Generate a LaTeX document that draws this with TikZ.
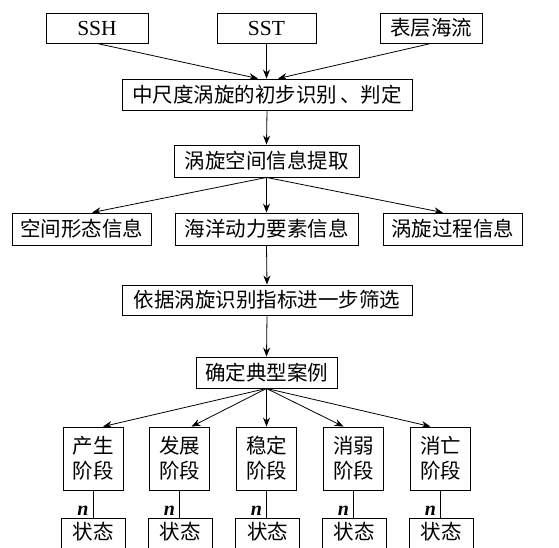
\documentclass[tikz,border=0pt]{standalone}
\usepackage{fontspec}
\setmainfont{Liberation Serif}
\newfontfamily\cjk{Noto Sans CJK SC}
\usetikzlibrary{arrows.meta,calc}
\begin{document}
\begin{tikzpicture}[x=1pt,y=-1pt,
  box/.style={draw,line width=0.9pt,inner sep=0pt,align=center,font=\fontsize{20.5}{25}\selectfont\cjk},
  arr/.style={line width=0.8pt,-{Stealth[length=9pt,width=7pt]}},
  lnk/.style={line width=0.8pt}]
\useasboundingbox (0,0) rectangle (559,547);
\clip (0,0) rectangle (559,547);
% top inputs
\node[box,minimum width=102pt,minimum height=30pt,font=\fontsize{21.5}{24}\selectfont] (ssh) at (97,28) {SSH};
\node[box,minimum width=99pt,minimum height=30pt,font=\fontsize{21.5}{24}\selectfont] (sst) at (266.5,28) {SST};
\node[box,minimum width=102pt,minimum height=30pt] (cur) at (431,28) {表层海流};
\node[box,minimum width=290pt,minimum height=31pt] (init) at (267,94.5) {中尺度涡旋的初步识别\,、判定};
\node[box,minimum width=185pt,minimum height=32pt] (ext) at (266.5,161) {涡旋空间信息提取};
\node[box,minimum width=139pt,minimum height=32pt] (sp) at (81.5,229) {空间形态信息};
\node[box,minimum width=183pt,minimum height=32pt] (dyn) at (266.5,229) {海洋动力要素信息};
\node[box,minimum width=139pt,minimum height=32pt] (proc) at (452.5,229) {涡旋过程信息};
\node[box,minimum width=290pt,minimum height=30pt] (filt) at (267,300) {依据涡旋识别指标进一步筛选};
\node[box,minimum width=141pt,minimum height=31pt] (case) at (266.5,372.5) {确定典型案例};
% stages
\foreach \i/\x/\t/\sx/\d in {1/93/产生/93/10,2/179.5/发展/180/12,3/266.5/稳定/267.5/0,4/353.5/消弱/354/-10,5/440.5/消亡/441/-10}{
  \node[box,minimum width=60pt,minimum height=63pt] (st\i) at (\x,458.5) {\t\\阶段};
  \node[box,minimum width=64pt,minimum height=50pt,anchor=north,text depth=26pt] (s\i) at (\sx,518) {状态};
  \draw[lnk] (st\i.south) -- (st\i.south|-s\i.north);
  \node[font=\fontsize{20}{24}\selectfont\itshape\bfseries,anchor=center] (n\i) at ($(st\i.south)+(-10,20)$) {n};
  \draw[arr] (case.south) -- ($(st\i.north)+(\d,0)$);
}
% arrows
\draw[arr] (ssh.south) -- ($(init.north)+(-9,0)$);
\draw[arr] (sst.south) -- (init.north-|sst.south);
\draw[arr] (cur.south) -- ($(init.north)+(11,0)$);
\draw[arr] (init.south) -- (ext.north);
\draw[arr] (ext.south) -- ($(sp.north)+(10.5,0)$);
\draw[arr] (ext.south) -- (dyn.north);
\draw[arr] (ext.south) -- ($(proc.north)+(-9.5,0)$);
\draw[arr] (dyn.south) -- (filt.north);
\draw[arr] (filt.south) -- (case.north);
\end{tikzpicture}
\end{document}
